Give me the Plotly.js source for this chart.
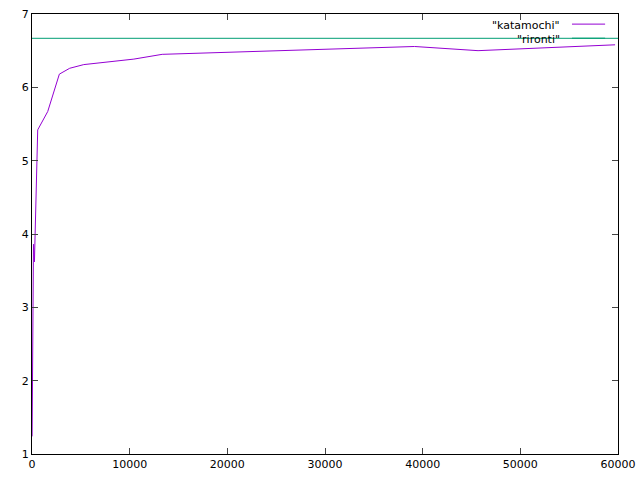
<!DOCTYPE html>
<html>
<head>
<meta charset="utf-8">
<script src="https://cdn.plot.ly/plotly-3.0.1.min.js"></script>
<style>html,body{margin:0;padding:0;background:#fff;}#plot{width:640px;height:480px;}</style>
</head>
<body>
<div id="plot"></div>
<script>
const katamochiX = [10, 150, 250, 585, 1610, 2800, 3860, 5300, 10430, 13330, 39160, 45670, 59700];
const katamochiY = [1.24, 3.86, 3.62, 5.42, 5.67, 6.18, 6.26, 6.31, 6.385, 6.45, 6.557, 6.50, 6.58];
const rirontiX = [0, 60000];
const rirontiY = [6.6667, 6.6667];
const seriesNames = ['"katamochi"', '"rironti"'];
const xTicks = [0, 10000, 20000, 30000, 40000, 50000, 60000];
const yTicks = [1, 2, 3, 4, 5, 6, 7];

const colors = ['#9400d3', '#009e73'];
const font = {family: 'DejaVu Sans', size: 11, color: '#000'};

const traces = [
  {x: katamochiX, y: katamochiY, mode: 'lines', line: {color: colors[0], width: 1}, name: seriesNames[0], showlegend: false},
  {x: rirontiX, y: rirontiY, mode: 'lines', line: {color: colors[1], width: 1.2}, opacity: 0.8, name: seriesNames[1], showlegend: false}
];

const axisCommon = {
  showgrid: false, zeroline: false, showline: true, linecolor: '#000', linewidth: 1,
  mirror: 'ticks', ticks: 'inside', ticklen: 6, tickcolor: '#444', tickwidth: 1,
  tickfont: font
};

const layout = {
  width: 640, height: 480,
  margin: {l: 32, r: 22, t: 14, b: 26},
  paper_bgcolor: '#fff', plot_bgcolor: '#fff',
  font: font,
  showlegend: false,
  xaxis: Object.assign({}, axisCommon, {range: [0, 60000], tickvals: xTicks, ticktext: xTicks.map(String)}),
  yaxis: Object.assign({}, axisCommon, {range: [1, 7], tickvals: yTicks, ticktext: yTicks.map(String)}),
  annotations: [
    {xref: 'paper', yref: 'paper', x: 0.9044, y: 0.974, xanchor: 'right', yanchor: 'middle', text: seriesNames[0], showarrow: false, font: font},
    {xref: 'paper', yref: 'paper', x: 0.9044, y: 0.942, xanchor: 'right', yanchor: 'middle', text: seriesNames[1], showarrow: false, font: font}
  ],
  shapes: [
    {type: 'line', xref: 'paper', yref: 'paper', x0: 0.9215, x1: 0.978, y0: 0.977, y1: 0.977, line: {color: colors[0], width: 1}},
    {type: 'line', xref: 'paper', yref: 'paper', x0: 0.9215, x1: 0.978, y0: 0.945, y1: 0.945, line: {color: colors[1], width: 1}}
  ]
};

Plotly.newPlot('plot', traces, layout, {staticPlot: true, displayModeBar: false});
</script>
</body>
</html>
